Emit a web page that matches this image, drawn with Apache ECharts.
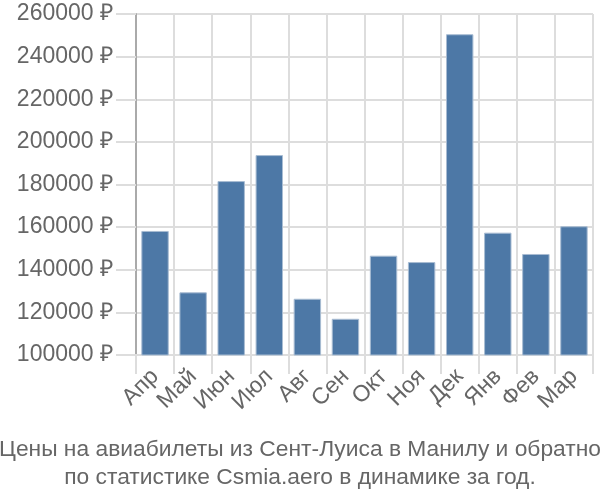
<!DOCTYPE html>
<html><head><meta charset="utf-8">
<script src="https://cdn.jsdelivr.net/npm/echarts@6/dist/echarts.min.js"></script>
<style>html,body{margin:0;padding:0;background:#fff}#c{width:600px;height:500px}</style>
</head><body><div id="c"></div>
<script>
const categories = ['Апр','Май','Июн','Июл','Авг','Сен','Окт','Ноя','Дек','Янв','Фев','Мар'];
const values = [158200,129400,181600,193800,126400,117000,146600,143600,250500,157400,147400,160400];
const yMin = 100000, yMax = 260000, yStep = 20000;
const titleLines = ['Цены на авиабилеты из Сент-Луиса в Манилу и обратно','по статистике Csmia.aero в динамике за год.'];

const chart = echarts.init(document.getElementById('c'), null, {renderer:'canvas'});
const font = 'Liberation Sans, Arial, sans-serif';
chart.setOption({
  animation:false,
  title:{text:titleLines.join('\n'),left:'center',top:431,
    textStyle:{fontFamily:font,fontSize:22.8,fontWeight:'normal',color:'#666',lineHeight:28}},
  grid:{left:136,right:7,top:14,bottom:145,containLabel:false},
  xAxis:{type:'category',data:categories,boundaryGap:true,
    axisLine:{show:true,lineStyle:{color:'#ddd',width:2}},
    axisTick:{show:true,alignWithLabel:false,length:19,lineStyle:{color:'#ddd',width:2}},
    splitLine:{show:true,lineStyle:{color:'#ddd',width:2}},
    axisLabel:{rotate:45,fontFamily:font,fontSize:23,color:'#666',margin:18,interval:0}},
  yAxis:{type:'value',min:yMin,max:yMax,interval:yStep,
    axisLine:{show:true,lineStyle:{color:'#aaa',width:2}},
    axisTick:{show:true,length:20,lineStyle:{color:'#ddd',width:2}},
    splitLine:{show:true,lineStyle:{color:'#ddd',width:2}},
    axisLabel:{fontFamily:font,fontSize:23,color:'#666',margin:23,formatter:v=>v+' ₽'}},
  series:[{type:'bar',data:values,barCategoryGap:'28%',
    itemStyle:{color:'#4d78a6',borderColor:'#a9bdd3',borderWidth:1}}]
});
</script></body></html>
